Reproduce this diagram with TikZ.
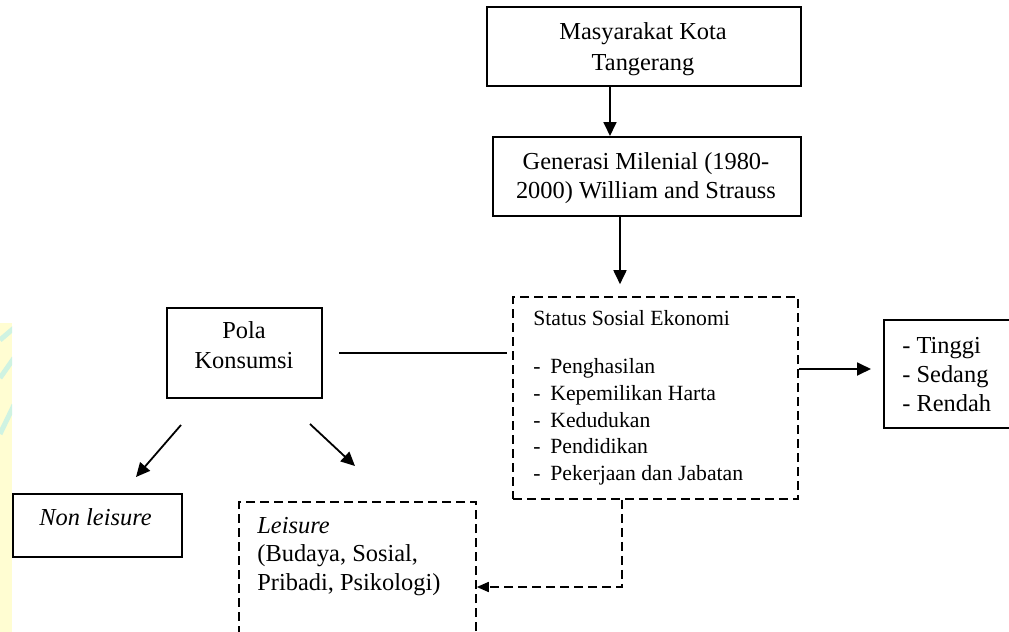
\documentclass[tikz,border=0pt]{standalone}
\usepackage{fontspec}
\setmainfont{Liberation Serif}
\usetikzlibrary{arrows.meta,fit}
\definecolor{bgy}{HTML}{FFFDD2}
\definecolor{bgt}{HTML}{CFF3E2}
\begin{document}
\begin{tikzpicture}[x=0.5pt,y=-0.5pt,
  box/.style={draw, line width=1pt, inner sep=0pt},
  dbox/.style={draw, line width=0.8pt, dash pattern=on 4.5pt off 2.5pt, inner sep=0pt},
  txt/.style={inner sep=0pt, font=\fontsize{12.2}{15}\selectfont},
  arr/.style={line width=0.9pt, -{Triangle[length=7pt,width=6.5pt]}},
  darr/.style={line width=0.8pt, dash pattern=on 4.5pt off 2.5pt, -{Triangle[length=6pt,width=5pt]}},
]
\useasboundingbox (0,0) rectangle (1009,632);
\clip (0,0) rectangle (1009,632);

% background strip at left edge
\fill[bgy] (0,323) rectangle (12,632);
\begin{scope}
  \clip (0,323) rectangle (12,632);
  \draw[bgt, line width=2.5pt] (0,340) -- (14,328);
  \draw[bgt, line width=2.5pt] (0,378) -- (14,358);
  \draw[bgt, line width=2.5pt] (0,434) -- (14,405);
\end{scope}

% boxes
\node[box, fit={(487,7)(801,86)}] (mas) {};
\node[txt, align=center, font=\fontsize{12.2}{15.5}\selectfont] (mastxt) at (643,49) {Masyarakat Kota\\Tangerang};

\node[box, fit={(493,137)(801,216)}] (gen) {};
\node[txt, align=center, font=\fontsize{12.2}{14.5}\selectfont] (gentxt) at (646,178) {Generasi Milenial (1980-\\2000) William and Strauss};

\node[dbox, fit={(513,297)(798,499)}] (status) {};
\node[inner sep=0pt, anchor=north west, align=left, font=\fontsize{10.85}{13.35}\selectfont] (stattxt) at (533,310.5)
  {Status Sosial Ekonomi\\[10.6pt]
   \makebox[8.5pt][l]{-}Penghasilan\\
   \makebox[8.5pt][l]{-}Kepemilikan Harta\\
   \makebox[8.5pt][l]{-}Kedudukan\\
   \makebox[8.5pt][l]{-}Pendidikan\\
   \makebox[8.5pt][l]{-}Pekerjaan dan Jabatan};

\node[box, fit={(884,320)(1030,428)}] (tinggi) {};
\node[txt, anchor=north west, align=left, font=\fontsize{12.2}{14.5}\selectfont] (tingtxt) at (902,337) {- Tinggi\\- Sedang\\- Rendah};

\node[box, fit={(167,308)(322,398)}] (pola) {};
\node[txt, align=center] (polatxt) at (244,345.5) {Pola\\Konsumsi};

\node[box, fit={(13,494)(182,557)}] (non) {};
\node[txt, anchor=base west] (nontxt) at (39,525) {\textit{Non leisure}};

\node[dbox, fit={(239,502)(476,660)}] (leis) {};
\node[txt, anchor=north west, align=left, font=\fontsize{12.2}{14.25}\selectfont] (leistxt) at (257,516.5) {\textit{Leisure}\\(Budaya, Sosial,\\Pribadi, Psikologi)};

% helper coordinates
\coordinate (x610) at (610,0);
\coordinate (x620) at (620,0);
\coordinate (x622) at (622,0);
\coordinate (y369) at (0,369);
\coordinate (y587) at (0,587);
\coordinate (p1s) at (181,425);
\coordinate (p1e) at (136,477);
\coordinate (p2s) at (310,424);
\coordinate (p2e) at (355,466);

% connectors
\draw[arr] (mas.south -| x610) -- (gen.north -| x610);
\draw[arr, shorten >=6pt] (gen.south -| x620) -- (status.north -| x620);
\draw[line width=0.9pt] ([xshift=8pt]pola.east) -- ([xshift=-2.5pt]pola.east -| status.west);
\draw[arr, shorten >=6pt] (status.east |- y369) -- (tinggi.west |- y369);
\draw[arr] (p1s) -- (p1e);
\draw[arr] (p2s) -- (p2e);
\draw[darr] (status.south -| x622) |- (leis.east |- y587);
\end{tikzpicture}
\end{document}
